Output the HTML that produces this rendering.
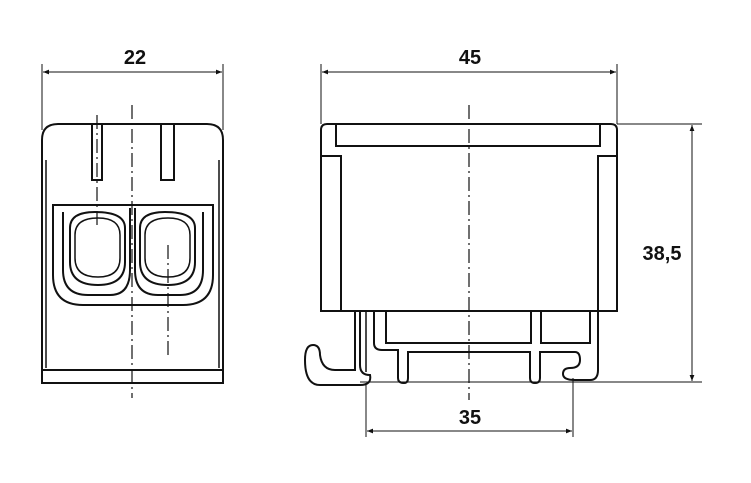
<!DOCTYPE html>
<html><head><style>body{margin:0;background:#fff}svg{display:block}</style></head><body>
<svg width="751" height="483" viewBox="0 0 751 483" xmlns="http://www.w3.org/2000/svg" font-family="Liberation Sans, Arial, sans-serif">
<defs><marker id="a" viewBox="0 0 10 10" refX="10" refY="5" markerWidth="8" markerHeight="6" orient="auto-start-reverse"><path d="M0,1 L10,5 L0,9z" fill="#111"/></marker></defs>
<g stroke="#111" fill="none" stroke-width="1">
<line x1="42" y1="64" x2="42" y2="130"/><line x1="223" y1="64" x2="223" y2="130"/>
<line x1="43" y1="72" x2="222" y2="72" marker-start="url(#a)" marker-end="url(#a)"/>
<line x1="321" y1="64" x2="321" y2="124"/><line x1="617" y1="64" x2="617" y2="124"/>
<line x1="322" y1="72" x2="616" y2="72" marker-start="url(#a)" marker-end="url(#a)"/>
<line x1="617" y1="124" x2="702" y2="124"/><line x1="360" y1="382" x2="702" y2="382"/>
<line x1="692" y1="125" x2="692" y2="381" marker-start="url(#a)" marker-end="url(#a)"/>
<line x1="366" y1="383" x2="366" y2="437"/><line x1="573" y1="378" x2="573" y2="437"/>
<line x1="367" y1="431" x2="572" y2="431" marker-start="url(#a)" marker-end="url(#a)"/>
</g>
<g stroke="#111" fill="none" stroke-width="2">
<path d="M42,383 V140 Q42,124 58,124 H207 Q223,124 223,140 V383 Z"/>
<line x1="42" y1="370" x2="223" y2="370"/>
<line x1="46" y1="160" x2="46" y2="368" stroke-width="1.5"/><line x1="219" y1="160" x2="219" y2="368" stroke-width="1.5"/>
<path d="M92,124 V180 H102 V124"/><path d="M161,124 V180 H174 V124"/>
<path d="M53,205 H213 V275 Q213,305 183,305 H83 Q53,305 53,275 Z"/>
<path d="M63,212 V270 Q63,295 88,295 H110 Q130,295 130,270 V208"/>
<path d="M135,208 V270 Q135,295 158,295 H180 Q203,295 203,270 V212"/>
<path d="M70,228 Q70,212 95,212 Q125,212 125,228 V262 Q125,285 98,285 Q70,285 70,262 Z"/>
<path d="M140,228 Q140,212 165,212 Q195,212 195,228 V262 Q195,285 168,285 Q140,285 140,262 Z"/>
<path d="M75,235 Q75,218 98,218 Q120,218 120,235 V258 Q120,277 98,277 Q75,277 75,258 Z" stroke-width="1.5"/>
<path d="M145,235 Q145,218 168,218 Q190,218 190,235 V258 Q190,277 168,277 Q145,277 145,258 Z" stroke-width="1.5"/>
<path d="M321,311 V130 Q321,124 327,124 H611 Q617,124 617,130 V311 Z"/>
<path d="M336,125 V146 H600 V125"/>
<path d="M321,156 H341 V311"/><path d="M617,156 H598 V311"/>
<rect x="386" y="311" width="145" height="32"/><rect x="541" y="311" width="49" height="32"/>
<path d="M374,311 V343 Q374,350 382,350 H398 V378 Q398,383 404,383 Q408,383 408,378 V352 H530 V378 Q530,383 535,383 Q540,383 540,378 V352 H575 Q580,352 580,360 Q580,368 570,368 Q563,368 563,374 Q563,380 575,380 H590 Q598,380 598,370 V311"/>
<path d="M360,311 V365 Q360,375 370,375 Q372,385 360,385 H320 Q305,385 305,360 Q305,345 313,345 Q320,345 320,355 Q322,370 335,370 H355 V311"/>
<line x1="366" y1="311" x2="366" y2="372" stroke-width="1.5"/>
</g>
<g stroke="#111" stroke-width="1.2" stroke-dasharray="14,4,2,4" fill="none">
<line x1="132" y1="105" x2="132" y2="398"/>
<line x1="97" y1="115" x2="97" y2="225"/>
<line x1="168" y1="245" x2="168" y2="358"/>
<line x1="469" y1="105" x2="469" y2="400"/>
</g>
<g font-size="20" font-weight="bold" fill="#111" text-anchor="middle">
<text x="135" y="64">22</text><text x="470" y="64">45</text>
<text x="470" y="424">35</text><text x="662" y="260">38,5</text>
</g>
</svg>
</body></html>
